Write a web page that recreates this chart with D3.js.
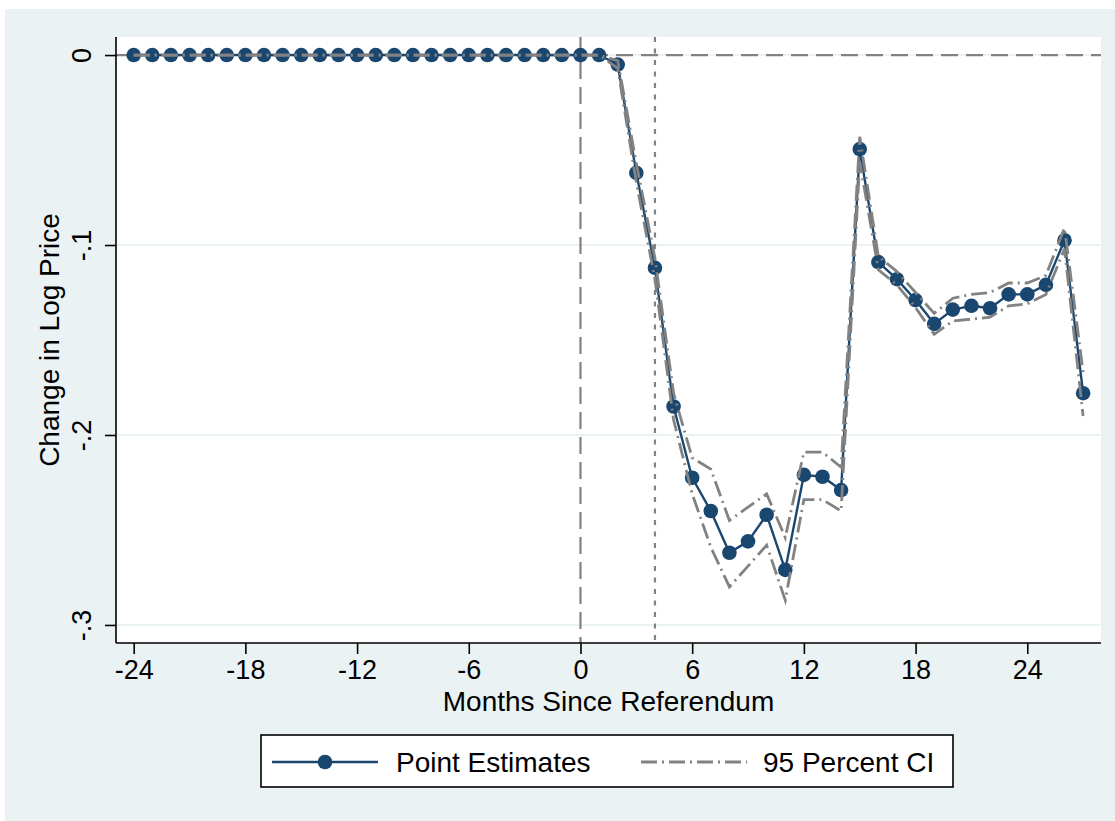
<!DOCTYPE html>
<html>
<head>
<meta charset="utf-8">
<script src="https://cdn.jsdelivr.net/npm/d3@7"></script>
<style>
  html, body { margin: 0; padding: 0; background: #ffffff; }
  svg { display: block; font-family: "Liberation Sans", Arial, sans-serif; }
</style>
</head>
<body>
<svg id="chart" width="1115" height="821"></svg>
<script>
// Event-study estimates: months relative to the referendum
const months = d3.range(-24, 28);

const estimates = [
  0, 0, 0, 0, 0, 0, 0, 0, 0, 0, 0, 0, 0, 0, 0, 0, 0, 0, 0, 0, 0, 0, 0, 0, 0, 0,
  -0.005, -0.062, -0.112, -0.185, -0.2225, -0.240, -0.262, -0.256, -0.242, -0.271,
  -0.221, -0.222, -0.229, -0.0495, -0.109, -0.118, -0.129, -0.1415, -0.134, -0.132,
  -0.1333, -0.126, -0.126, -0.121, -0.0975, -0.178
];

const ciUpper = [
  0, 0, 0, 0, 0, 0, 0, 0, 0, 0, 0, 0, 0, 0, 0, 0, 0, 0, 0, 0, 0, 0, 0, 0, 0, 0,
  -0.003, -0.057, -0.107, -0.178, -0.212, -0.218, -0.245, -0.238, -0.231, -0.254,
  -0.209, -0.209, -0.217, -0.043, -0.106, -0.114, -0.125, -0.136, -0.128, -0.126,
  -0.125, -0.120, -0.120, -0.116, -0.091, -0.167
];

const ciLower = [
  0, 0, 0, 0, 0, 0, 0, 0, 0, 0, 0, 0, 0, 0, 0, 0, 0, 0, 0, 0, 0, 0, 0, 0, 0, 0,
  -0.007, -0.067, -0.118, -0.192, -0.231, -0.259, -0.280, -0.269, -0.258, -0.287,
  -0.234, -0.234, -0.240, -0.056, -0.113, -0.121, -0.133, -0.147, -0.140, -0.139,
  -0.138, -0.132, -0.131, -0.126, -0.102, -0.190
];

const xTicks = [-24, -18, -12, -6, 0, 6, 12, 18, 24];
const yTicks = [0, -0.1, -0.2, -0.3];
const refMonths = [0, 4];   // referendum month and the later marker

const xTitle = "Months Since Referendum";
const yTitle = "Change in Log Price";
const legendLabels = ["Point Estimates", "95 Percent CI"];

// ---- layout ----
const W = 1115, H = 821;
const plot = { left: 116, right: 1101, top: 37, bottom: 643 };
const navy = "#1a476f";
const gray = "#828282";
const bgTint = "#eaf2f3";

const svg = d3.select("#chart");

// outer graph region
svg.append("rect").attr("x", 5).attr("y", 9).attr("width", W - 5).attr("height", H - 9)
  .attr("fill", bgTint);
// plot region
svg.append("rect").attr("x", plot.left).attr("y", plot.top)
  .attr("width", plot.right - plot.left).attr("height", plot.bottom - plot.top)
  .attr("fill", "#ffffff");

const x = d3.scaleLinear().domain([-24.95, 27.96]).range([plot.left, plot.right]);
const y = d3.scaleLinear().domain([0.0095, -0.3095]).range([plot.top, plot.bottom]);

// horizontal grid lines
svg.append("g").selectAll("line").data(yTicks).join("line")
  .attr("x1", plot.left).attr("x2", plot.right)
  .attr("y1", d => y(d)).attr("y2", d => y(d))
  .attr("stroke", bgTint).attr("stroke-width", 2);

// reference lines
svg.append("line")
  .attr("x1", plot.left).attr("x2", plot.right).attr("y1", y(0)).attr("y2", y(0))
  .attr("stroke", gray).attr("stroke-width", 2.2).attr("stroke-dasharray", "17,8");
svg.append("line")
  .attr("x1", x(refMonths[0])).attr("x2", x(refMonths[0]))
  .attr("y1", plot.top).attr("y2", plot.bottom)
  .attr("stroke", gray).attr("stroke-width", 2.2).attr("stroke-dasharray", "17,8");
svg.append("line")
  .attr("x1", x(refMonths[1])).attr("x2", x(refMonths[1]))
  .attr("y1", plot.top).attr("y2", plot.bottom)
  .attr("stroke", gray).attr("stroke-width", 2.2).attr("stroke-dasharray", "5,6.5");

// point estimates: connected line with markers
const rows = months.map((m, i) => ({ m, est: estimates[i], hi: ciUpper[i], lo: ciLower[i] }));

const lineEst = d3.line().x(d => x(d.m)).y(d => y(d.est));
svg.append("path").datum(rows).attr("d", lineEst)
  .attr("fill", "none").attr("stroke", navy).attr("stroke-width", 2.4)
  .attr("stroke-linejoin", "round");
svg.append("g").selectAll("circle").data(rows).join("circle")
  .attr("cx", d => x(d.m)).attr("cy", d => y(d.est)).attr("r", 7.3)
  .attr("fill", navy);

// confidence bounds
const ciDash = "16,5,2,5";
["hi", "lo"].forEach(k => {
  svg.append("path").datum(rows)
    .attr("d", d3.line().x(d => x(d.m)).y(d => y(d[k])))
    .attr("fill", "none").attr("stroke", gray).attr("stroke-width", 2.8)
    .attr("stroke-dasharray", ciDash);
});

// axes
const fmtY = d => d === 0 ? "0" : String(d).replace("0.", ".");
const xAxis = d3.axisBottom(x).tickValues(xTicks).tickSize(11).tickFormat(d => String(d));
const yAxis = d3.axisLeft(y).tickValues(yTicks).tickSize(11).tickFormat(fmtY);

const gx = svg.append("g").attr("transform", `translate(0,${plot.bottom})`).call(xAxis);
gx.select(".domain").attr("d", `M${plot.left},0H${plot.right}`);
gx.selectAll("line").attr("stroke", "#000").attr("stroke-width", 1.6);
gx.select(".domain").attr("stroke", "#000").attr("stroke-width", 1.6);
gx.selectAll("text").attr("y", 36).attr("dy", 0)
  .attr("font-size", 27).attr("fill", "#000")
  .attr("font-family", "'Liberation Sans', Arial, sans-serif");

const gy = svg.append("g").attr("transform", `translate(${plot.left},0)`).call(yAxis);
gy.select(".domain").attr("d", `M0,${plot.top}V${plot.bottom}`)
  .attr("stroke", "#000").attr("stroke-width", 1.6);
gy.selectAll("line").attr("stroke", "#000").attr("stroke-width", 1.6);
gy.selectAll("text")
  .attr("x", 0).attr("y", -25).attr("dy", 0)
  .attr("transform", "rotate(-90)")
  .attr("text-anchor", "middle")
  .attr("font-size", 27).attr("fill", "#000")
  .attr("font-family", "'Liberation Sans', Arial, sans-serif");

// axis titles
svg.append("text").attr("x", (plot.left + plot.right) / 2).attr("y", 711)
  .attr("text-anchor", "middle").attr("font-size", 28).attr("fill", "#000")
  .text(xTitle);
svg.append("text")
  .attr("transform", `translate(59,${(plot.top + plot.bottom) / 2}) rotate(-90)`)
  .attr("text-anchor", "middle").attr("font-size", 28).attr("fill", "#000")
  .text(yTitle);

// legend
const lg = svg.append("g");
lg.append("rect").attr("x", 261).attr("y", 735).attr("width", 692).attr("height", 52)
  .attr("fill", "#ffffff").attr("stroke", "#000").attr("stroke-width", 1.6);
const ly = 762;
lg.append("line").attr("x1", 272).attr("x2", 378).attr("y1", ly).attr("y2", ly)
  .attr("stroke", navy).attr("stroke-width", 2.4);
lg.append("circle").attr("cx", 325).attr("cy", ly).attr("r", 7.3).attr("fill", navy);
lg.append("text").attr("x", 396).attr("y", 772).attr("font-size", 28).attr("fill", "#000")
  .text(legendLabels[0]);
lg.append("line").attr("x1", 641).attr("x2", 747).attr("y1", ly).attr("y2", ly)
  .attr("stroke", gray).attr("stroke-width", 2.8).attr("stroke-dasharray", ciDash);
lg.append("text").attr("x", 763).attr("y", 772).attr("font-size", 28).attr("fill", "#000")
  .text(legendLabels[1]);
</script>
</body>
</html>
